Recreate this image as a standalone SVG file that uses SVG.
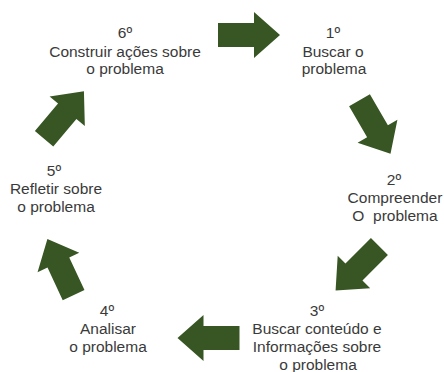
<svg xmlns="http://www.w3.org/2000/svg" xmlns:xlink="http://www.w3.org/1999/xlink" width="444" height="372" viewBox="0 0 444 372">
  <style>
    text { font-family: "Liberation Sans", Arial, sans-serif; font-size: 15.5px; fill: #3a3a3a; text-anchor: middle; }
    .arrow { fill: #375623; }
  </style>
  <defs>
    <path id="blockArrow" d="M-31,-12 H5 V-23 L31,0 L5,23 V12 H-31 Z"/>
  </defs>
  <rect width="444" height="372" fill="#ffffff"/>

  <g id="connectors">
    <use xlink:href="#blockArrow" class="arrow" transform="translate(249,35)"/>
    <use xlink:href="#blockArrow" class="arrow" transform="translate(375,127) rotate(60)"/>
    <use xlink:href="#blockArrow" class="arrow" transform="translate(357.5,268.5) rotate(135)"/>
    <use xlink:href="#blockArrow" class="arrow" transform="translate(208.5,338) rotate(180)"/>
    <use xlink:href="#blockArrow" class="arrow" transform="translate(60.5,267) rotate(-115)"/>
    <use xlink:href="#blockArrow" class="arrow" transform="translate(64,115) rotate(-50)"/>
  </g>

  <g id="step1">
    <text x="333" y="38">1º</text>
    <text x="333" y="56.5">Buscar o</text>
    <text x="334" y="74">problema</text>
  </g>

  <g id="step2">
    <text x="394" y="185">2º</text>
    <text x="395" y="203">Compreender</text>
    <text x="395" y="221" xml:space="preserve">O  problema</text>
  </g>

  <g id="step3">
    <text x="317" y="316">3º</text>
    <text x="317" y="334">Buscar conteúdo e</text>
    <text x="317" y="352">Informações sobre</text>
    <text x="318" y="370">o problema</text>
  </g>

  <g id="step4">
    <text x="107" y="316">4º</text>
    <text x="108" y="334">Analisar</text>
    <text x="108" y="352">o problema</text>
  </g>

  <g id="step5">
    <text x="54" y="176">5º</text>
    <text x="56" y="194">Refletir sobre</text>
    <text x="56" y="212">o problema</text>
  </g>

  <g id="step6">
    <text x="125" y="38">6º</text>
    <text x="125" y="56.5">Construir ações sobre</text>
    <text x="125" y="74">o problema</text>
  </g>
</svg>
